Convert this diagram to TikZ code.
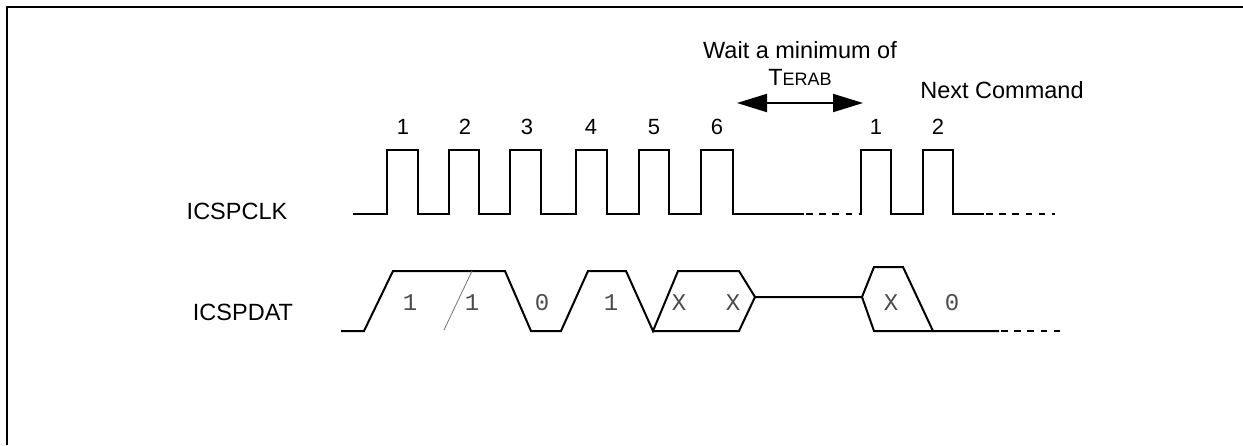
\documentclass[tikz,border=0pt]{standalone}
\usepackage{fontspec}
\setmainfont{Liberation Sans}
\newfontfamily\monofnt{Liberation Mono}
\usetikzlibrary{arrows.meta}
\begin{document}
\begin{tikzpicture}[x=0.5pt,y=-0.5pt,
  sig/.style={line width=1pt, line join=miter, line cap=rect},
  thinsig/.style={line width=0.4pt, draw=black!55},
  lbl/.style={font=\fontsize{11.75}{14}\selectfont, inner sep=0pt},
  num/.style={font=\fontsize{11}{13}\selectfont, inner sep=0pt},
  bit/.style={font=\monofnt\fontsize{12}{14}\selectfont, text=black!70, inner sep=0pt},
  dashtail/.style={line width=1pt, dash pattern=on 3.3pt off 3.3pt}]
\useasboundingbox (0,0) rectangle (1243,445);
% frame
\draw[line width=1.25pt] (7,445) -- (7,7) -- (1243,7);

% labels
\node[lbl] (clk) at (237,211) {ICSPCLK};
\node[lbl] (dat) at (243,312) {ICSPDAT};
\node[lbl] (wait) at (800,50) {Wait a minimum of};
\node[inner sep=0pt] (terab) at (800,77) {\fontsize{11.75}{14}\selectfont T\fontsize{9}{10}\selectfont ERAB};
\node[lbl] (next) at (1002,90) {Next Command};

% clock numbers
\foreach \x/\t [count=\i] in {403/1,465/2,527/3,591/4,654/5,717/6,876/1,938/2}
  \node[num] (n\i) at (\x,127) {\t};

% wait arrow
\coordinate (aL) at (737,103);
\coordinate (aR) at (863,103);
\draw[line width=1pt, {Triangle[length=15pt,width=9pt]}-{Triangle[length=15pt,width=9pt]}] (aL) -- (aR);

% ICSPCLK waveform
\draw[sig] (354,214) -- (387,214) -- (387,150) -- (418,150) -- (418,214)
  -- (449,214) -- (449,150) -- (479,150) -- (479,214)
  -- (510,214) -- (510,150) -- (541,150) -- (541,214)
  -- (576,214) -- (576,150) -- (607,150) -- (607,214)
  -- (639,214) -- (639,150) -- (669,150) -- (669,214)
  -- (701,214) -- (701,150) -- (733,150) -- (733,214) -- (803,214);
\draw[dashtail] (806,214) -- (861,214);
\draw[sig] (861,214) -- (861,150) -- (891,150) -- (891,214)
  -- (923,214) -- (923,150) -- (953,150) -- (953,214) -- (983,214);
\draw[dashtail] (986,214) -- (1055,214);

% ICSPDAT waveform
\draw[sig] (342,331) -- (364,331) -- (393,271) -- (505,271) -- (531,331)
  -- (561,331) -- (588,271) -- (626,271) -- (653,331)
  -- (678,271) -- (739,271) -- (755,297) -- (739,331) -- (653,331);
\draw[thinsig] (472,271) -- (444,330);
\draw[sig] (755,297) -- (862,297) -- (874,267) -- (903,267) -- (933,331)
  -- (998,331);
\draw[sig] (862,297) -- (874,331) -- (933,331);
\draw[dashtail] (1001,331) -- (1060,331);

% bit values
\node[bit] (b1) at (410,303) {1};
\node[bit] (b2) at (472,303) {1};
\node[bit] (b3) at (542,303) {0};
\node[bit] (b4) at (611,303) {1};
\node[bit] (b5) at (679,303) {X};
\node[bit] (b6) at (733,303) {X};
\node[bit] (b7) at (891,303) {X};
\node[bit] (b8) at (952,303) {0};
\end{tikzpicture}
\end{document}
